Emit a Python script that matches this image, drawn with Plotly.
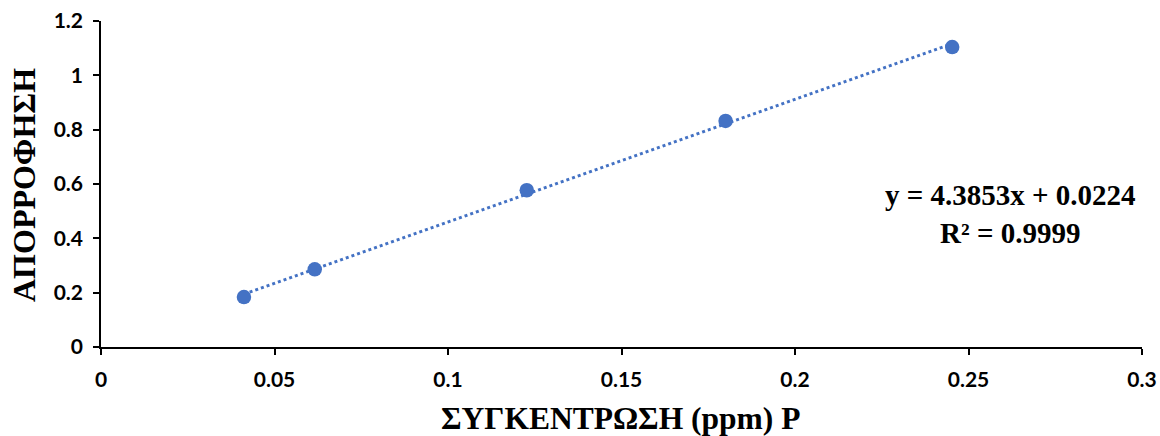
import numpy as np
import plotly.graph_objects as go

conc = [0.0412, 0.0616, 0.1227, 0.180, 0.2453]
absorb = [0.184, 0.286, 0.577, 0.832, 1.104]
x_ticks = [0, 0.05, 0.1, 0.15, 0.2, 0.25, 0.3]
x_tick_labels = ["0", "0.05", "0.1", "0.15", "0.2", "0.25", "0.3"]
y_ticks = [0, 0.2, 0.4, 0.6, 0.8, 1.0, 1.2]
y_tick_labels = ["0", "0.2", "0.4", "0.6", "0.8", "1", "1.2"]
x_title = "ΣΥΓΚΕΝΤΡΩΣΗ (ppm) P"
y_title = "ΑΠΟΡΡΟΦΗΣΗ"
eq_text = "y = 4.3853x + 0.0224<br>R² = 0.9999"

color = "#4472C4"
slope, intercept = np.polyfit(conc, absorb, 1)
tx = [min(conc), max(conc)]
ty = [slope * v + intercept for v in tx]

W, H = 1160, 436
L, R, T, B = 101, 18, 21, 89

fig = go.Figure()
fig.add_trace(go.Scatter(x=tx, y=ty, mode="lines",
                         line=dict(color=color, width=3, dash="dot"),
                         hoverinfo="skip", showlegend=False))
fig.add_trace(go.Scatter(x=conc, y=absorb, mode="markers",
                         marker=dict(color=color, size=14.5),
                         showlegend=False))

tickfont = dict(family="Lato, 'Open Sans', sans-serif", size=21, color="black", weight="bold")
fig.update_xaxes(range=[0, 0.3], tickvals=x_ticks, ticktext=x_tick_labels,
                 showline=True, linecolor="black", linewidth=1.5,
                 ticks="outside", ticklen=6, tickcolor="black", tickwidth=1.5,
                 showgrid=False, zeroline=False, tickfont=tickfont, automargin=False,
                 ticklabelstandoff=7)
fig.update_yaxes(range=[0, 1.2], tickvals=y_ticks, ticktext=y_tick_labels,
                 showline=True, linecolor="black", linewidth=1.5,
                 ticks="outside", ticklen=6, tickcolor="black", tickwidth=1.5,
                 showgrid=False, zeroline=False, tickfont=tickfont, automargin=False,
                 ticklabelstandoff=6)

serif = "Liberation Serif, 'Times New Roman', serif"
fig.add_annotation(x=0.262, y=0.49, xref="x", yref="y", text="<b>" + eq_text + "</b>",
                   showarrow=False, align="center",
                   font=dict(family=serif, size=29, color="black"))
# axis titles
fig.add_annotation(x=(620 - L) / (W - L - R), y=-(418 - (H - B)) / (H - T - B),
                   xref="paper", yref="paper", text="<b>" + x_title + "</b>",
                   showarrow=False, xanchor="center", yanchor="middle",
                   font=dict(family=serif, size=31.5, color="black"))
fig.add_annotation(x=-(L - 24) / (W - L - R), y=((H - B) - 185) / (H - T - B),
                   xref="paper", yref="paper", text="<b>" + y_title + "</b>",
                   showarrow=False, textangle=-90, xanchor="center", yanchor="middle",
                   font=dict(family=serif, size=32, color="black"))
fig.update_layout(width=W, height=H, plot_bgcolor="white", paper_bgcolor="white",
                  margin=dict(l=L, r=R, t=T, b=B))
fig.write_html("out.html", config={"displayModeBar": False},
               post_script="document.body.style.margin='0';document.body.style.overflow='hidden';")
